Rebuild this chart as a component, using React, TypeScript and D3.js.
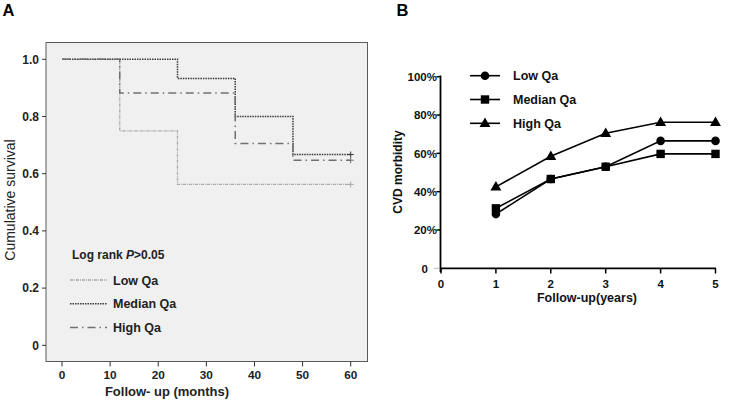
import React from "react";
import * as d3 from "d3";

// Panel A: Kaplan-Meier survival steps (time in months, survival)
const kmTimes = [0, 12, 24, 36, 48, 60];
const lowQaSurv = [1.0, 0.75, 0.5625, 0.5625, 0.5625, 0.5625];
const medianQaSurv = [1.0, 1.0, 0.933, 0.8, 0.667, 0.667];
const highQaSurv = [1.0, 0.882, 0.882, 0.706, 0.647, 0.647];
const aXTicks = [0, 10, 20, 30, 40, 50, 60];
const aYTicks = [0, 0.2, 0.4, 0.6, 0.8, 1.0];

// Panel B: CVD morbidity by follow-up year
const years = [1, 2, 3, 4, 5];
const lowQaMorb = [0.283, 0.466, 0.53, 0.665, 0.665];
const medianQaMorb = [0.313, 0.466, 0.53, 0.597, 0.597];
const highQaMorb = [0.425, 0.585, 0.705, 0.762, 0.762];
const bXTicks = [0, 1, 2, 3, 4, 5];
const bYTicks = [0, 0.2, 0.4, 0.6, 0.8, 1.0];

const FONT = "'Liberation Sans', Arial, sans-serif";

function PanelA() {
  const x = d3.scaleLinear().domain([0, 60]).range([62, 350.7]);
  const y = d3.scaleLinear().domain([0, 1]).range([345.3, 59.3]);
  const box = { x0: 46, x1: 367.5, y0: 42.5, y1: 361.5 };
  const line = d3
    .line<[number, number]>()
    .x((d) => x(d[0]))
    .y((d) => y(d[1]))
    .curve(d3.curveStepAfter);
  const series = [
    { name: "Low Qa", vals: lowQaSurv, color: "#a8a8a8", dash: "3,1,1,1", width: 1.3 },
    { name: "Median Qa", vals: medianQaSurv, color: "#3a3a3a", dash: "1.5,1", width: 1.5 },
    { name: "High Qa", vals: highQaSurv, color: "#707070", dash: "8,4,1.5,4", width: 1.5 },
  ];
  return (
    <g>
      <text x={2.5} y={15.5} fontSize={16.5} fontWeight="bold" fontFamily={FONT}>A</text>
      <rect x={box.x0} y={box.y0} width={box.x1 - box.x0} height={box.y1 - box.y0} fill="#f0f0f0" stroke="#5a5a5a" strokeWidth={1} />
      {aYTicks.map((t) => (
        <g key={"ay" + t}>
          <line x1={box.x0 - 4} x2={box.x0} y1={y(t)} y2={y(t)} stroke="#333" />
          <text x={39} y={y(t) + 4.3} textAnchor="end" fontSize={12} fontWeight="bold" fontFamily={FONT} fill="#222">
            {t === 0 ? "0" : t.toFixed(1)}
          </text>
        </g>
      ))}
      {aXTicks.map((t) => (
        <g key={"ax" + t}>
          <line x1={x(t)} x2={x(t)} y1={box.y1} y2={box.y1 + 5} stroke="#333" />
          <text x={x(t)} y={379} textAnchor="middle" fontSize={11.8} fontWeight="bold" fontFamily={FONT} fill="#222">{t}</text>
        </g>
      ))}
      <text x={167} y={396} textAnchor="middle" fontSize={13} fontWeight="bold" fontFamily={FONT} fill="#222">Follow- up (months)</text>
      <text transform="translate(15,200) rotate(-90)" textAnchor="middle" fontSize={14} fontFamily={FONT} fill="#222">Cumulative survival</text>
      {series.map((s) => {
        const pts: [number, number][] = kmTimes.map((t, i) => [t, s.vals[i]]);
        const last = pts[pts.length - 1];
        return (
          <g key={s.name}>
            <path d={line(pts) || ""} fill="none" stroke={s.color} strokeWidth={s.width} strokeDasharray={s.dash} />
            <line x1={x(last[0]) - 3} x2={x(last[0]) + 3} y1={y(last[1])} y2={y(last[1])} stroke={s.color} strokeWidth={1} />
            <line x1={x(last[0])} x2={x(last[0])} y1={y(last[1]) - 3} y2={y(last[1]) + 3} stroke={s.color} strokeWidth={1} />
          </g>
        );
      })}
      <text x={72} y={259} fontSize={12} fontWeight="bold" fontFamily={FONT} fill="#222">
        Log rank <tspan fontStyle="italic">P</tspan>&gt;0.05
      </text>
      {series.map((s, i) => (
        <g key={"leg" + s.name}>
          <line x1={70} x2={107} y1={280 + i * 23.8} y2={280 + i * 23.8} stroke={s.color} strokeWidth={s.width} strokeDasharray={s.dash} />
          <text x={113} y={284.5 + i * 23.8} fontSize={12.5} fontWeight="bold" fontFamily={FONT} fill="#222">{s.name}</text>
        </g>
      ))}
    </g>
  );
}

function Marker({ kind, cx, cy }: { kind: string; cx: number; cy: number }) {
  if (kind === "circle") return <circle cx={cx} cy={cy} r={4.3} fill="#000" />;
  if (kind === "square") return <rect x={cx - 4.2} y={cy - 4.2} width={8.4} height={8.4} fill="#000" />;
  const sym = d3.symbol().type(d3.symbolTriangle).size(52)();
  return <path d={sym || ""} transform={`translate(${cx},${cy + 0.5})`} fill="#000" />;
}

function PanelB() {
  const x = d3.scaleLinear().domain([0, 5]).range([441, 715.5]);
  const y = d3.scaleLinear().domain([0, 1]).range([268.3, 76.7]);
  const line = d3
    .line<[number, number]>()
    .x((d) => x(d[0]))
    .y((d) => y(d[1]));
  const series = [
    { name: "Low Qa", vals: lowQaMorb, kind: "circle" },
    { name: "Median Qa", vals: medianQaMorb, kind: "square" },
    { name: "High Qa", vals: highQaMorb, kind: "triangle" },
  ];
  return (
    <g>
      <text x={396.5} y={15.5} fontSize={16.5} fontWeight="bold" fontFamily={FONT}>B</text>
      <line x1={440.5} x2={440.5} y1={75.5} y2={272} stroke="#000" strokeWidth={1.8} />
      <line x1={440} x2={716} y1={268.3} y2={268.3} stroke="#000" strokeWidth={1.8} />
      {bYTicks.map((t) => (
        <g key={"by" + t}>
          {t > 0 && <line x1={436.5} x2={440.5} y1={y(t)} y2={y(t)} stroke="#000" strokeWidth={1.5} />}
          <text x={t === 0 ? 428 : 437} y={y(t) + 4.2} textAnchor="end" fontSize={11.5} fontWeight="bold" fontFamily={FONT} fill="#111">
            {t === 0 ? "0" : `${Math.round(t * 100)}%`}
          </text>
        </g>
      ))}
      <line x1={434} x2={439} y1={268.3} y2={268.3} stroke="#bbb" strokeWidth={1} />
      {bXTicks.map((t) => (
        <g key={"bx" + t}>
          <line x1={x(t)} x2={x(t)} y1={268.3} y2={273.5} stroke="#000" strokeWidth={1.5} />
          <text x={x(t)} y={287.5} textAnchor="middle" fontSize={11.5} fontWeight="bold" fontFamily={FONT} fill="#111">{t}</text>
        </g>
      ))}
      <text x={587} y={302} textAnchor="middle" fontSize={12.5} fontWeight="bold" fontFamily={FONT} fill="#111">Follow-up(years)</text>
      <text transform="translate(402,172) rotate(-90)" textAnchor="middle" fontSize={12} fontWeight="bold" fontFamily={FONT} fill="#111">CVD morbidity</text>
      {series.map((s) => {
        const pts: [number, number][] = years.map((t, i) => [t, s.vals[i]]);
        return (
          <g key={s.name}>
            <path d={line(pts) || ""} fill="none" stroke="#000" strokeWidth={1.6} />
            {pts.map((p, i) => (
              <Marker key={i} kind={s.kind} cx={x(p[0])} cy={y(p[1])} />
            ))}
          </g>
        );
      })}
      {series.map((s, i) => {
        const ly = 75.7 + i * 23.8;
        return (
          <g key={"leg" + s.name}>
            <line x1={470} x2={500} y1={ly} y2={ly} stroke="#000" strokeWidth={1.6} />
            <Marker kind={s.kind} cx={485} cy={ly} />
            <text x={513} y={ly + 4.5} fontSize={12.5} fontWeight="bold" fontFamily={FONT} fill="#111">{s.name}</text>
          </g>
        );
      })}
    </g>
  );
}

export default function App() {
  return (
    <svg width={733} height={401} style={{ position: "absolute", left: 0, top: 0, background: "#fff" }}>
      <rect width={733} height={401} fill="#fff" />
      <PanelA />
      <PanelB />
    </svg>
  );
}
